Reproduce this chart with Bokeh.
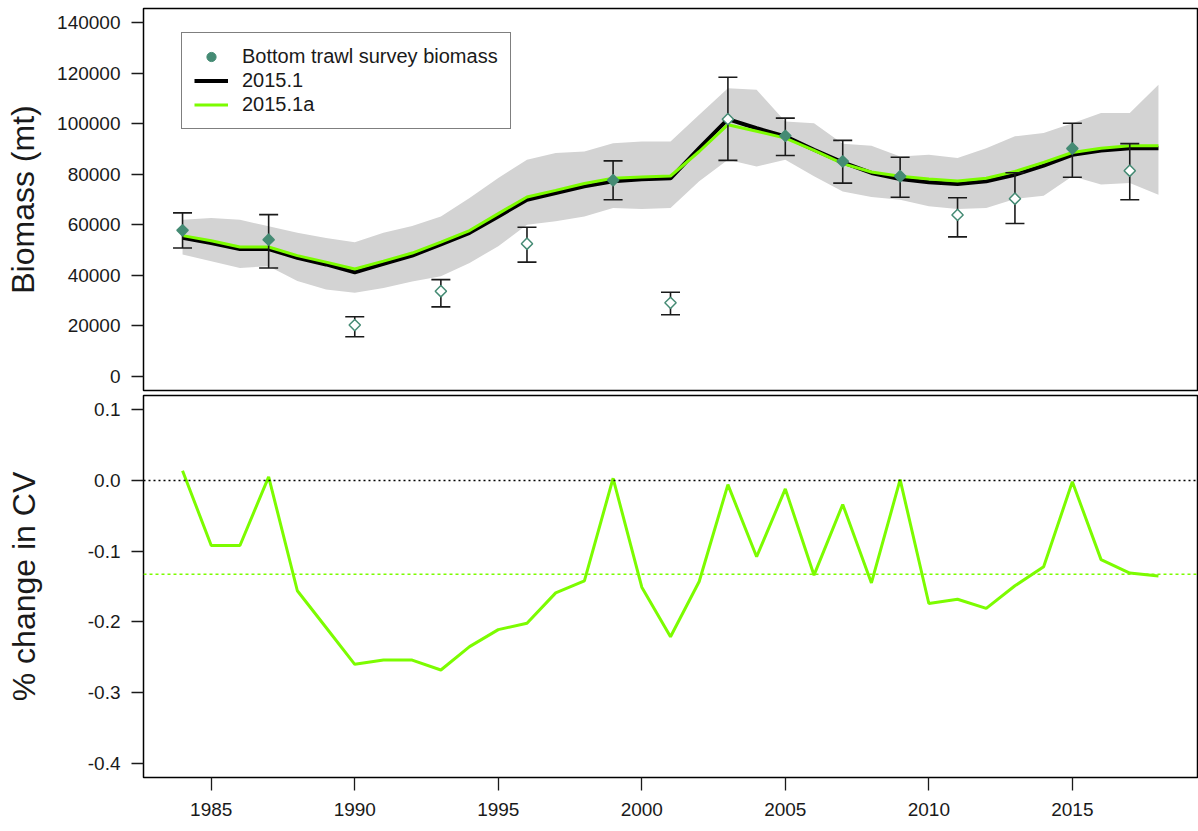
from bokeh.plotting import figure
from bokeh.layouts import column
from bokeh.models import (ColumnDataSource, Range1d, FixedTicker, NumeralTickFormatter,
                          Legend, LegendItem, Span)
from bokeh.embed import file_html
from bokeh.resources import INLINE
import numpy as np

# ---- model years ----
years = list(range(1984, 2019))

# Estimated biomass (thousand t) for the two model runs
model_2015_1 = [54.8, 52.8, 50.4, 50.4, 46.9, 44.3, 41.2, 44.5, 47.8, 52.2,
                56.8, 63.3, 69.9, 72.6, 75.2, 77.2, 78.0, 78.4, 90.3, 101.8,
                98.2, 95.0, 89.7, 84.7, 80.5, 78.1, 76.8, 76.1, 77.2, 79.8,
                83.4, 87.7, 89.4, 90.3, 90.3]
model_2015_1a = [55.7, 53.7, 51.2, 51.2, 47.8, 45.2, 42.5, 45.6, 48.8, 53.1,
                 57.7, 64.4, 71.0, 73.6, 76.3, 78.4, 78.9, 79.3, 89.0, 99.6,
                 97.0, 94.3, 89.4, 84.2, 80.9, 79.2, 78.1, 77.3, 78.4, 81.1,
                 84.7, 88.6, 90.3, 91.3, 91.3]

# Confidence band (thousand t)
band_upper = [62.0, 62.7, 62.0, 59.4, 56.8, 54.8, 53.1, 56.8, 59.5, 63.3,
              70.6, 78.5, 85.7, 88.4, 89.0, 92.3, 93.0, 93.0, 103.5, 114.0,
              113.4, 100.9, 100.2, 92.1, 91.3, 87.0, 87.7, 86.4, 90.3, 95.0,
              96.3, 100.2, 104.2, 104.2, 115.4]
band_lower = [48.2, 45.6, 42.9, 43.6, 37.7, 34.4, 33.1, 35.0, 37.5, 39.6,
              44.9, 51.5, 60.0, 61.4, 63.3, 66.6, 66.2, 66.6, 77.2, 85.7,
              83.1, 85.7, 79.2, 73.2, 71.0, 69.9, 67.3, 66.2, 66.6, 70.2,
              71.5, 79.2, 75.9, 76.5, 71.9]

# Bottom trawl survey biomass (thousand t) with error bars
survey_years = [1984, 1987, 1990, 1993, 1996, 1999, 2001, 2003, 2005, 2007,
                2009, 2011, 2013, 2015, 2017]
survey_obs = [57.8, 54.1, 20.3, 33.7, 52.5, 77.6, 29.1, 101.8, 95.2, 85.1,
              79.2, 63.9, 70.3, 90.2, 81.4]
survey_hi = [64.7, 64.0, 23.6, 38.3, 59.0, 85.3, 33.3, 118.4, 102.2, 93.4,
             86.7, 70.7, 80.6, 100.2, 92.1]
survey_lo = [50.8, 42.9, 15.7, 27.5, 45.2, 69.9, 24.4, 85.5, 87.4, 76.5,
             70.9, 55.2, 60.5, 78.8, 69.9]
survey_used = [True, True, False, False, False, True, False, False, True, True,
               True, False, False, True, False]

# Relative change in CV between runs
cv_change = [0.0136, -0.092, -0.092, 0.005, -0.156, -0.208, -0.260, -0.254,
             -0.254, -0.268, -0.235, -0.211, -0.202, -0.159, -0.142, 0.003,
             -0.151, -0.221, -0.143, -0.006, -0.108, -0.012, -0.134, -0.034,
             -0.145, 0.001, -0.174, -0.168, -0.181, -0.149, -0.122, -0.002,
             -0.112, -0.131, -0.135]

biomass_ticks = [0, 20000, 40000, 60000, 80000, 100000, 120000, 140000]
cv_ticks = [-0.4, -0.3, -0.2, -0.1, 0.0, 0.1]
year_ticks = [1985, 1990, 1995, 2000, 2005, 2010, 2015]

# ---- styling ----
FONT = "Liberation Sans"
GREEN = "#7CFC00"
TEAL = "#458B74"
BAND = "#D3D3D3"
INK = "#1a1a1a"
TICK_FONT = "19px"
TITLE_FONT = "32px"

x_range = Range1d(1982.64, 2019.36)


def style(p, ticks, fmt, label, standoff):
    p.grid.visible = False
    p.outline_line_color = "black"
    p.outline_line_width = 1.5
    p.outline_line_alpha = 1.0
    p.background_fill_color = "white"
    p.border_fill_color = "white"
    ax = p.yaxis[0]
    ax.ticker = FixedTicker(ticks=ticks)
    ax.formatter = fmt
    ax.axis_line_color = None
    ax.major_tick_in = 0
    ax.major_tick_out = 12
    ax.major_tick_line_width = 1.3
    ax.major_tick_line_color = INK
    ax.minor_tick_line_color = None
    ax.major_label_text_font = FONT
    ax.major_label_text_font_size = TICK_FONT
    ax.major_label_text_color = INK
    ax.major_label_standoff = 11
    ax.axis_label = label
    ax.axis_label_text_font = FONT
    ax.axis_label_text_font_size = TITLE_FONT
    ax.axis_label_text_font_style = "normal"
    ax.axis_label_text_color = INK
    ax.axis_label_standoff = standoff


# ---- top panel: biomass ----
k = 1000.0
src_model = ColumnDataSource(dict(
    year=years,
    m1=[v * k for v in model_2015_1],
    m1a=[v * k for v in model_2015_1a],
))
band_x = years + years[::-1]
band_y = [v * k for v in band_upper] + [v * k for v in band_lower[::-1]]

src_survey = ColumnDataSource(dict(
    year=survey_years,
    obs=[v * k for v in survey_obs],
    hi=[v * k for v in survey_hi],
    lo=[v * k for v in survey_lo],
    fill=[TEAL if u else "white" for u in survey_used],
))

top = figure(frame_width=1054, frame_height=382, x_range=x_range,
             y_range=Range1d(-5600, 145600), output_backend="svg",
             toolbar_location=None, min_border_left=143, min_border_right=1,
             min_border_top=8, min_border_bottom=2)
style(top, biomass_ticks, NumeralTickFormatter(format="0"), "Biomass (mt)", 13)
top.xaxis.visible = False

top.patch(band_x, band_y, fill_color=BAND, line_color=None)
r_black = top.line("year", "m1", source=src_model, line_color="black", line_width=4)
r_green = top.line("year", "m1a", source=src_model, line_color=GREEN, line_width=3)

top.segment(x0="year", y0="lo", x1="year", y1="hi", source=src_survey,
            line_color=INK, line_width=1.6)
top.scatter("year", "hi", source=src_survey, marker="dash", size=19,
            line_color=INK, line_width=1.6)
top.scatter("year", "lo", source=src_survey, marker="dash", size=19,
            line_color=INK, line_width=1.6)
top.scatter("year", "obs", source=src_survey, marker="square", angle=np.pi / 4,
            size=8, fill_color="fill", line_color=TEAL, line_width=1.5)

# legend swatch for the survey points (not drawn in the plot area)
used_years = [y for y, u in zip(survey_years, survey_used) if u]
used_obs = [v * k for v, u in zip(survey_obs, survey_used) if u]
r_dot = top.scatter(used_years, used_obs, marker="circle", size=9,
                    fill_color=TEAL, line_color=TEAL, visible=False)

legend = Legend(items=[
    LegendItem(label="Bottom trawl survey biomass", renderers=[r_dot]),
    LegendItem(label="2015.1", renderers=[r_black]),
    LegendItem(label="2015.1a", renderers=[r_green]),
], location=(38, 261))
legend.border_line_color = "black"
legend.border_line_width = 1.5
legend.background_fill_alpha = 1.0
legend.inactive_fill_alpha = 0.0
legend.padding = 12
legend.spacing = 1
legend.margin = 0
legend.glyph_width = 34
legend.glyph_height = 23
legend.label_height = 23
legend.label_standoff = 14
legend.label_text_font = FONT
legend.label_text_font_size = "20px"
legend.label_text_color = INK
top.add_layout(legend)

# ---- bottom panel: % change in CV ----
bot = figure(frame_width=1054, frame_height=382, x_range=x_range,
             y_range=Range1d(-0.42, 0.12), output_backend="svg",
             toolbar_location=None, min_border_left=143, min_border_right=1,
             min_border_top=3, min_border_bottom=54)
style(bot, cv_ticks, NumeralTickFormatter(format="0.0"), "% change in CV", 43)

xa = bot.xaxis[0]
xa.ticker = FixedTicker(ticks=year_ticks)
xa.axis_line_color = None
xa.major_tick_in = 0
xa.major_tick_out = 13
xa.major_tick_line_width = 1.3
xa.major_tick_line_color = INK
xa.minor_tick_line_color = None
xa.major_label_text_font = FONT
xa.major_label_text_font_size = TICK_FONT
xa.major_label_text_color = INK
xa.major_label_standoff = 12

bot.add_layout(Span(location=0.0, dimension="width", line_color="black",
                    line_dash="2 3", line_width=1.5))
bot.add_layout(Span(location=float(np.mean(cv_change)), dimension="width",
                    line_color=GREEN, line_dash="3 3", line_width=1.5))
bot.line(years, cv_change, line_color=GREEN, line_width=3)

layout = column(top, bot, spacing=0)
open("out.html", "w").write(file_html(layout, INLINE))
